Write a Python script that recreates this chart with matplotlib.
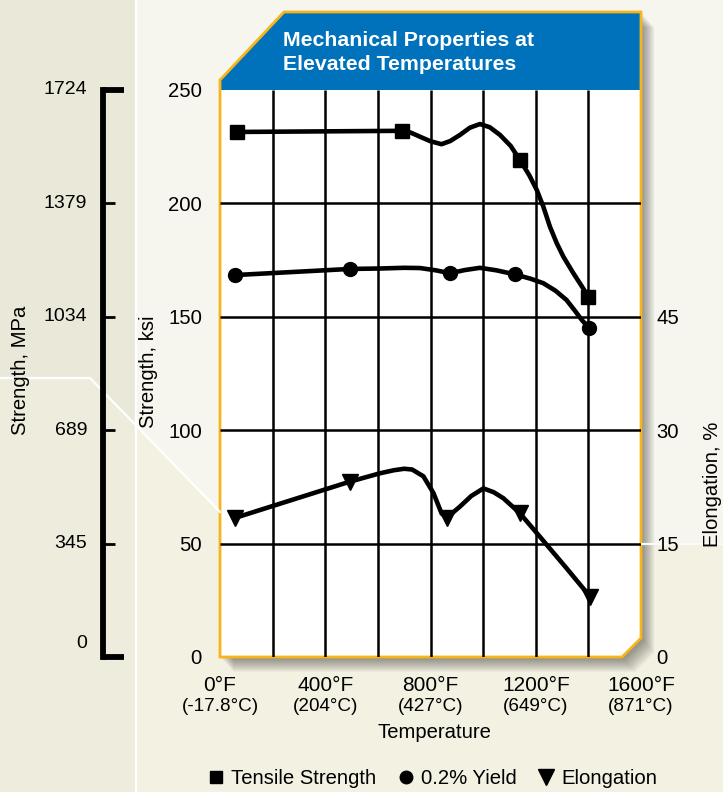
import matplotlib
matplotlib.use("Agg")
import matplotlib.pyplot as plt
from matplotlib.patches import Polygon
from matplotlib.lines import Line2D

plt.rcParams["font.family"] = ["Liberation Sans", "DejaVu Sans"]

W, H = 723, 792

# measured points (temperature in deg F)
tensile_temp = [65, 690, 1140, 1400]
tensile_ksi = [231.5, 232.0, 219.1, 158.9]
yield_temp = [57, 494, 874, 1121, 1402]
yield_ksi = [168.4, 171.1, 169.2, 168.7, 145.1]
elong_temp = [57, 494, 861, 1140, 1406]
elong_pct = [18.4, 23.2, 18.4, 19.0, 8.0]

# course of the drawn curves
tensile_curve_t = [65, 690, 725, 760, 800, 842, 875, 912, 950, 988, 1025, 1064,
                   1105, 1140, 1175, 1204, 1229, 1254, 1280, 1305, 1343, 1372, 1400]
tensile_curve_ksi = [231.5, 232.0, 231.2, 229.4, 227.4, 226.1, 227.5, 230.2, 233.4,
                     235.0, 233.6, 230.2, 225.3, 219.1, 212.5, 205.9, 198.5, 189.7,
                     182.4, 176.5, 169.2, 164.0, 158.9]
yield_curve_t = [57, 494, 608, 700, 760, 820, 874, 930, 988, 1050, 1121, 1180,
                 1229, 1275, 1317, 1350, 1375, 1402]
yield_curve_ksi = [168.4, 171.1, 171.3, 171.6, 171.5, 170.5, 169.2, 170.6, 171.6,
                   170.5, 168.7, 166.8, 164.8, 161.5, 157.4, 152.5, 148.6, 145.1]
elong_curve_t = [57, 494, 608, 660, 700, 730, 773, 811, 842, 861, 885, 912, 955,
                 1001, 1040, 1077, 1140, 1216, 1318, 1406]
elong_curve_pct = [18.4, 23.2, 24.3, 24.7, 24.9, 24.8, 23.9, 21.7, 19.0, 18.4, 19.1,
                   19.9, 21.3, 22.3, 21.8, 21.0, 19.0, 15.9, 11.7, 8.0]

temp_ticks = [0, 400, 800, 1200, 1600]
temp_f_labels = ["0°F", "400°F", "800°F", "1200°F", "1600°F"]
temp_c_labels = ["(-17.8°C)", "(204°C)", "(427°C)", "(649°C)", "(871°C)"]
ksi_ticks = [0, 50, 100, 150, 200, 250]
elong_ticks = [0, 15, 30, 45]
mpa_ticks = [0, 345, 689, 1034, 1379, 1724]

BLUE = "#0072bc"
GOLD = "#f8b51a"
FS = 14.6

fig = plt.figure(figsize=(W / 100, H / 100), dpi=100)

# background drawn in pixel coordinates
bg = fig.add_axes([0, 0, 1, 1])
bg.set_xlim(0, W)
bg.set_ylim(H, 0)
bg.axis("off")
bg.add_patch(Polygon([(0, 0), (W, 0), (W, H), (0, H)], color="#f7f6ee", lw=0))
bg.add_patch(Polygon([(0, 378), (90, 378), (220, 512), (641, 544), (W, 544), (W, H), (0, H)],
                     color="#f3f1e2", lw=0))
bg.add_patch(Polygon([(0, 0), (136, 0), (136, 425), (90, 378), (0, 378)], color="#eae9d9", lw=0))
bg.add_patch(Polygon([(0, 378), (90, 378), (136, 425), (136, H), (0, H)], color="#eeecdd", lw=0))
bg.plot([136, 136], [0, H], color="white", lw=1.6)
bg.plot([0, 90, 220], [378, 378, 512], color="white", lw=1.6)
bg.plot([641, W], [544, 544], color="#fbfbf5", lw=1.6)

panel = [(220, 80), (284, 12), (641, 12), (641, 638), (622, 657), (220, 657)]
for i in range(1, 16):
    bg.add_patch(Polygon([(x + i * 0.9, y + i * 1.0) for x, y in panel],
                         color="black", alpha=0.03, lw=0))
bg.add_patch(Polygon(panel, facecolor="white", edgecolor="none"))
bg.add_patch(Polygon([(220, 80), (284, 12), (641, 12), (641, 90), (220, 90)],
                     facecolor=BLUE, edgecolor="none"))
bg.add_patch(Polygon(panel, facecolor="none", edgecolor=GOLD, lw=2.0, joinstyle="miter"))
bg.text(283, 46, "Mechanical Properties at", color="white", fontsize=15.3,
        fontweight="bold", va="baseline")
bg.text(283, 70, "Elevated Temperatures", color="white", fontsize=15.3,
        fontweight="bold", va="baseline")

bg.text(434, 732, "Temperature", fontsize=FS, ha="center", va="center")
bg.text(148, 372, "Strength, ksi", fontsize=FS, rotation=90, ha="center", va="center")
bg.text(21, 370, "Strength, MPa", fontsize=FS, rotation=90, ha="center", va="center")
bg.text(712, 484, "Elongation, %", fontsize=FS, rotation=90, ha="center", va="center")

# main chart
ax = fig.add_axes([220 / W, (H - 657) / H, 421 / W, 567 / H])
ax.set_facecolor("none")
ax.set_xlim(0, 1600)
ax.set_ylim(0, 250)
for s in ax.spines.values():
    s.set_visible(False)
ax.vlines(range(200, 1600, 200), 0, 250, color="black", lw=1.8, zorder=1)
ax.hlines(ksi_ticks[1:-1], 0, 1600, color="black", lw=1.8, zorder=1)

ax.set_yticks(ksi_ticks)
ax.set_yticklabels([str(v) for v in ksi_ticks])
ax.set_xticks(temp_ticks)
ax.set_xticklabels(temp_f_labels)
ax.tick_params(axis="y", length=0, pad=13, labelsize=FS)
ax.tick_params(axis="x", length=0, pad=14, labelsize=15)
for t, lab in zip(temp_ticks, temp_c_labels):
    ax.annotate(lab, xy=(t, 0), xycoords=("data", "axes fraction"),
                xytext=(0, -35.5), textcoords="offset points",
                ha="center", va="center", fontsize=13.6, annotation_clip=False)

ax.plot(tensile_curve_t, tensile_curve_ksi, color="black", lw=3.3,
        solid_joinstyle="round", solid_capstyle="round", zorder=3)
ax.plot(tensile_temp, tensile_ksi, "s", color="black", ms=9.5, zorder=4)
ax.plot(yield_curve_t, yield_curve_ksi, color="black", lw=3.3,
        solid_joinstyle="round", solid_capstyle="round", zorder=3)
ax.plot(yield_temp, yield_ksi, "o", color="black", ms=10, zorder=4)

ax2 = ax.twinx()
ax2.set_facecolor("none")
ax2.set_ylim(0, 75)
for s in ax2.spines.values():
    s.set_visible(False)
ax2.set_yticks(elong_ticks)
ax2.set_yticklabels([str(v) for v in elong_ticks])
ax2.tick_params(axis="y", length=0, pad=11, labelsize=FS)
ax2.plot(elong_curve_t, elong_curve_pct, color="black", lw=3.3,
         solid_joinstyle="round", solid_capstyle="round", zorder=3)
ax2.plot(elong_temp, elong_pct, "v", color="black", ms=11, zorder=4)

# MPa scale bracket
mp = fig.add_axes([103 / W, (H - 657) / H, 22 / W, 567 / H])
mp.set_xlim(0, 22)
mp.set_ylim(0, 1724)
mp.axis("off")
mp.plot([0, 0], [0, 1724], color="black", lw=4.2, solid_capstyle="projecting", clip_on=False)
mp.hlines([0, 1724], 0, 21, color="black", lw=4.2, clip_on=False)
mp.hlines(mpa_ticks[1:-1], 0, 12, color="black", lw=2.0, clip_on=False)
for v in mpa_ticks:
    dy = 14 if v == 0 else 0
    mp.annotate(str(v), xy=(-16, v), xytext=(0, dy * 0.72), textcoords="offset points",
                ha="right", va="center", fontsize=14, annotation_clip=False)

handles = [
    Line2D([], [], marker="s", color="black", ls="none", ms=9),
    Line2D([], [], marker="o", color="black", ls="none", ms=9),
    Line2D([], [], marker="v", color="black", ls="none", ms=11),
]
fig.legend(handles, ["Tensile Strength", "0.2% Yield", "Elongation"], ncol=3,
           loc="center", bbox_to_anchor=(433 / W, (H - 779) / H), frameon=False,
           fontsize=FS, handlelength=0.7, handletextpad=0.4, columnspacing=1.1,
           borderpad=0)

fig.savefig("out.png", dpi=100)
